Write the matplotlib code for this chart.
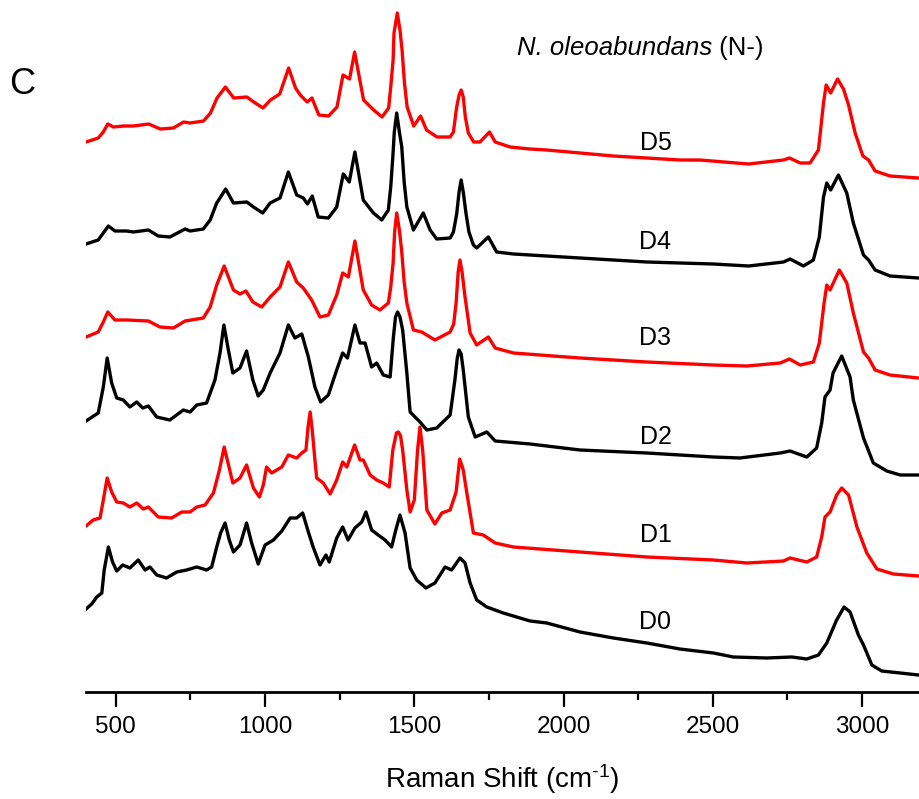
import matplotlib
matplotlib.use("Agg")
import matplotlib.pyplot as plt
from matplotlib.ticker import MultipleLocator

plt.rcParams['font.family'] = ['Liberation Sans', 'DejaVu Sans']
plt.rcParams['mathtext.fontset'] = 'custom'
plt.rcParams['mathtext.rm'] = 'Liberation Sans'
plt.rcParams['mathtext.it'] = 'Liberation Sans:italic'

# Raman shift (cm^-1) and stacked intensity (a.u.) for each spectrum
d5_x = [400, 441, 458, 473, 492, 526, 559, 610, 649, 693, 727, 749, 794, 817, 839, 867, 895, 939, 962, 993,
        1018, 1049, 1079, 1102, 1118, 1141, 1157, 1180, 1213, 1241, 1261, 1283, 1300, 1330, 1364, 1392, 1414,
        1421, 1429, 1432, 1443, 1452, 1459, 1467, 1476, 1498, 1521, 1541, 1576, 1620, 1631, 1642, 1650, 1657,
        1664, 1671, 1681, 1699, 1720, 1752,
        1771, 1821, 1888, 1944, 2167, 2390, 2457, 2620, 2737, 2757, 2793, 2826, 2854, 2871, 2880, 2895, 2918,
        2938, 2955, 2977, 3003, 3022, 3044, 3094, 3189]
d5_y = [550, 554, 560, 568, 565, 566, 566, 568, 563, 564, 570, 569, 571, 579, 594, 605, 594, 595, 590, 584,
        592, 598, 624, 604, 597, 590, 594, 577, 576, 585, 617, 613, 640, 592, 582, 575, 584,
        605, 632, 659, 679, 662, 642, 609, 585, 566, 576, 562, 555, 555, 560, 585, 597, 602,
        595, 575, 559, 550, 550, 560,
        550, 545, 543, 542, 536, 532, 532, 528, 532, 534, 529, 529, 542, 589, 607, 599, 613,
        603, 587, 559, 536, 532, 521, 516, 514]

d4_x = [400, 441, 458, 475, 497, 536, 559, 609, 642, 681, 732, 749, 793, 816, 838, 868, 894, 939, 961, 992,
        1017, 1050, 1078, 1106, 1128, 1142, 1158, 1178, 1212, 1240, 1262, 1282, 1301, 1329, 1363, 1391, 1413,
        1421, 1428, 1433, 1441, 1450, 1458, 1466, 1475, 1497, 1530, 1553, 1575, 1620, 1631, 1642, 1650, 1657,
        1664, 1673, 1683, 1698, 1709, 1748,
        1776, 1832, 2055, 2279, 2502, 2620, 2737, 2759, 2804, 2837, 2857, 2871, 2882, 2895, 2921, 2949, 2971,
        3005, 3022, 3044, 3094, 3189]
d4_y = [448, 452, 459, 466, 461, 461, 460, 462, 456, 455, 463, 461, 463, 472, 489, 503, 489, 490, 485, 479,
        489, 494, 520, 497, 494, 488, 496, 475, 474, 485, 518, 510, 540, 492, 479, 472, 482,
        505, 535, 560, 579, 560, 545, 510, 485, 462, 479, 462, 453, 454, 460, 478, 500, 512,
        500, 479, 460, 447, 444, 455,
        440, 438, 434, 430, 428, 426, 430, 433, 426, 432, 455, 495, 509, 502, 517, 499, 469,
        437, 432, 422, 416, 414]

d3_x = [400, 441, 458, 473, 497, 536, 609, 648, 693, 732, 793, 816, 838, 863, 894, 916, 936, 959, 989,
        1017, 1050, 1078, 1106, 1128, 1156, 1184, 1212, 1240, 1260, 1279, 1301, 1329, 1357, 1385, 1413,
        1421, 1429, 1434, 1441, 1450, 1458, 1466, 1475, 1497, 1525, 1569, 1620, 1632, 1640, 1647, 1653, 1660,
        1670, 1687, 1709, 1748, 1771,
        1832, 2055, 2279, 2502, 2614, 2726, 2757, 2793, 2837, 2857, 2873, 2882, 2893, 2924, 2949, 2971,
        3005, 3022, 3044, 3094, 3189]
d3_y = [355, 360, 370, 380, 372, 372, 371, 365, 364, 371, 374, 385, 407, 426, 402, 398, 401, 390, 385,
        395, 405, 430, 410, 404, 392, 375, 377, 397, 419, 415, 451, 402, 387, 382, 389,
        405, 429, 460, 479, 462, 440, 410, 389, 362, 360, 352, 360, 368, 389, 420, 432, 420,
        395, 359, 347, 355, 344,
        339, 334, 330, 327, 326, 329, 333, 327, 330, 349, 389, 407, 402, 422, 409, 379,
        340, 334, 322, 317, 314]

d2_x = [400, 441, 458, 471, 486, 503, 525, 547, 570, 590, 609, 637, 681, 726, 749, 771, 804, 832, 849, 862,
        877, 892, 916, 938, 959, 977, 994, 1017, 1050, 1078, 1100, 1123, 1145, 1167, 1186, 1212, 1240, 1260,
        1276, 1301, 1318, 1335, 1357, 1374, 1396, 1419, 1430, 1437, 1444, 1452, 1461, 1475, 1486, 1519, 1542,
        1575, 1620, 1636, 1644, 1650, 1657, 1664, 1681, 1704, 1743, 1771, 1888, 2055, 2279, 2502, 2591, 2726,
        2759, 2815, 2848, 2865, 2876, 2893, 2903, 2932, 2960, 2971, 3005, 3038, 3083, 3128, 3189]
d2_y = [271, 279, 305, 334, 309, 294, 292, 285, 290, 284, 286, 275, 272, 282, 280, 287, 289, 312, 339, 367,
        342, 319, 324, 341, 312, 296, 302, 319, 339, 367, 354, 358, 335, 305, 290, 297, 322, 339,
        334, 367, 349, 349, 325, 329, 317, 315, 355, 375, 380, 375, 362, 319, 280, 270, 262,
        264, 277, 312, 334, 342, 338, 322, 275, 255, 260, 251, 248, 242, 239, 235, 234, 239,
        241, 235, 244, 269, 295, 302, 319, 336, 315, 292, 254, 229, 221, 217, 217]

d1_x = [400, 424, 447, 458, 471, 486, 503, 525, 547, 570, 592, 609, 642, 687, 721, 749, 771, 799, 827, 847,
        863, 892, 916, 938, 961, 981, 994, 1005, 1022, 1056, 1078, 1106, 1123, 1137, 1144, 1151, 1158, 1167,
        1173, 1195, 1218, 1240, 1260, 1274, 1300, 1318, 1329, 1352, 1374, 1396, 1416, 1428, 1440, 1447, 1454,
        1461, 1475, 1486, 1500, 1511, 1519, 1528, 1542, 1569, 1592, 1620, 1640, 1652, 1664, 1676, 1698, 1731,
        1771, 1832, 2055, 2279,
        2502, 2614, 2737, 2759, 2815, 2848, 2865, 2876, 2893, 2915, 2932, 2955, 2983, 3016, 3050, 3105, 3189]
d1_y = [166, 172, 174, 192, 214, 200, 190, 189, 185, 189, 183, 185, 175, 174, 180, 180, 185, 187, 199, 222,
        245, 209, 214, 227, 204, 195, 207, 225, 219, 225, 237, 234, 239, 242, 265, 280, 262, 232,
        214, 209, 198, 212, 230, 225, 247, 232, 232, 217, 212, 209, 205, 242, 259, 260, 256,
        242, 202, 180, 192, 242, 265, 242, 182, 168, 179, 182, 200, 233, 222, 199, 159, 157,
        149, 145, 140, 135,
        132, 129, 131, 134, 130, 135, 155, 175, 180, 197, 204, 197, 165, 139, 123, 118, 116]

d0_x = [400, 419, 436, 453, 461, 475, 489, 503, 523, 547, 575, 598, 614, 637, 670, 704, 737, 771, 804, 821,
        838, 851, 866, 880, 894, 916, 938, 955, 977, 1000, 1028, 1056, 1084, 1106, 1126, 1145, 1161, 1184,
        1204, 1215, 1240, 1260, 1278, 1301, 1324, 1338, 1357, 1379, 1402, 1424, 1438, 1452, 1469, 1486, 1508,
        1539, 1569, 1603, 1625, 1653, 1670, 1687, 1709, 1743, 1798, 1888, 1944, 2055, 2167, 2279, 2390, 2502,
        2569, 2681, 2765, 2815, 2854, 2882, 2915, 2940, 2960, 2988, 3005, 3033, 3066, 3128, 3189]
d0_y = [83, 88, 95, 99, 122, 145, 130, 121, 127, 124, 132, 122, 125, 117, 114, 120, 122, 125, 122, 125,
        145, 159, 169, 152, 140, 147, 169, 149, 128, 147, 152, 161, 174, 174, 179, 160, 145, 127,
        137, 130, 154, 165, 152, 164, 170, 180, 162, 157, 152, 145, 162, 177, 159, 124, 112,
        104, 109, 125, 122, 134, 129, 109, 92, 85, 79, 71, 69, 60, 54, 49, 43, 39,
        35, 34, 35, 33, 37, 49, 72, 85, 80, 57, 47, 27, 21, 19, 17]

labels = ["D0", "D1", "D2", "D3", "D4", "D5"]
label_y = [70, 157, 255, 354, 450, 549]
colors = ["black", "red", "black", "red", "black", "red"]
series = [(d0_x, d0_y), (d1_x, d1_y), (d2_x, d2_y), (d3_x, d3_y), (d4_x, d4_y), (d5_x, d5_y)]

xticks = [500, 1000, 1500, 2000, 2500, 3000]

W, H = 919, 799
fig = plt.figure(figsize=(W / 100, H / 100), dpi=100)
ax = fig.add_axes([86 / W, 1 - 692 / H, (W - 86) / W, 692 / H])

for (xs, ys), c in zip(series, colors):
    ax.plot(xs, ys, color=c, lw=2.4, solid_joinstyle='round')

for lab, ly in zip(labels, label_y):
    ax.text(2308, ly, lab, fontsize=18, ha='center', va='center')

ax.set_xlim(400, 3191)
ax.set_ylim(0, 692)
for s in ['left', 'right', 'top']:
    ax.spines[s].set_visible(False)
ax.spines['bottom'].set_linewidth(2.0)
ax.set_yticks([])
ax.set_xticks(xticks)
ax.xaxis.set_minor_locator(MultipleLocator(250))
ax.tick_params(axis='x', which='major', direction='out', length=10.5, width=1.6, labelsize=17.5, pad=7)
ax.tick_params(axis='x', which='minor', direction='out', length=6, width=1.6)
ax.set_xlabel(r"Raman Shift (cm$^{\text{-1}}$)", fontsize=20, labelpad=17)

t1 = ax.text(1843, 644, "N. oleoabundans", fontsize=18.5, style='italic', ha='left', va='center')
ax.annotate(" (N-)", xy=(1, 0.5), xycoords=t1, fontsize=18.5, ha='left', va='center')

fig.text(22 / W, 1 - 84 / H, "C", fontsize=26, ha='center', va='center')

fig.savefig("out.png", dpi=100)
